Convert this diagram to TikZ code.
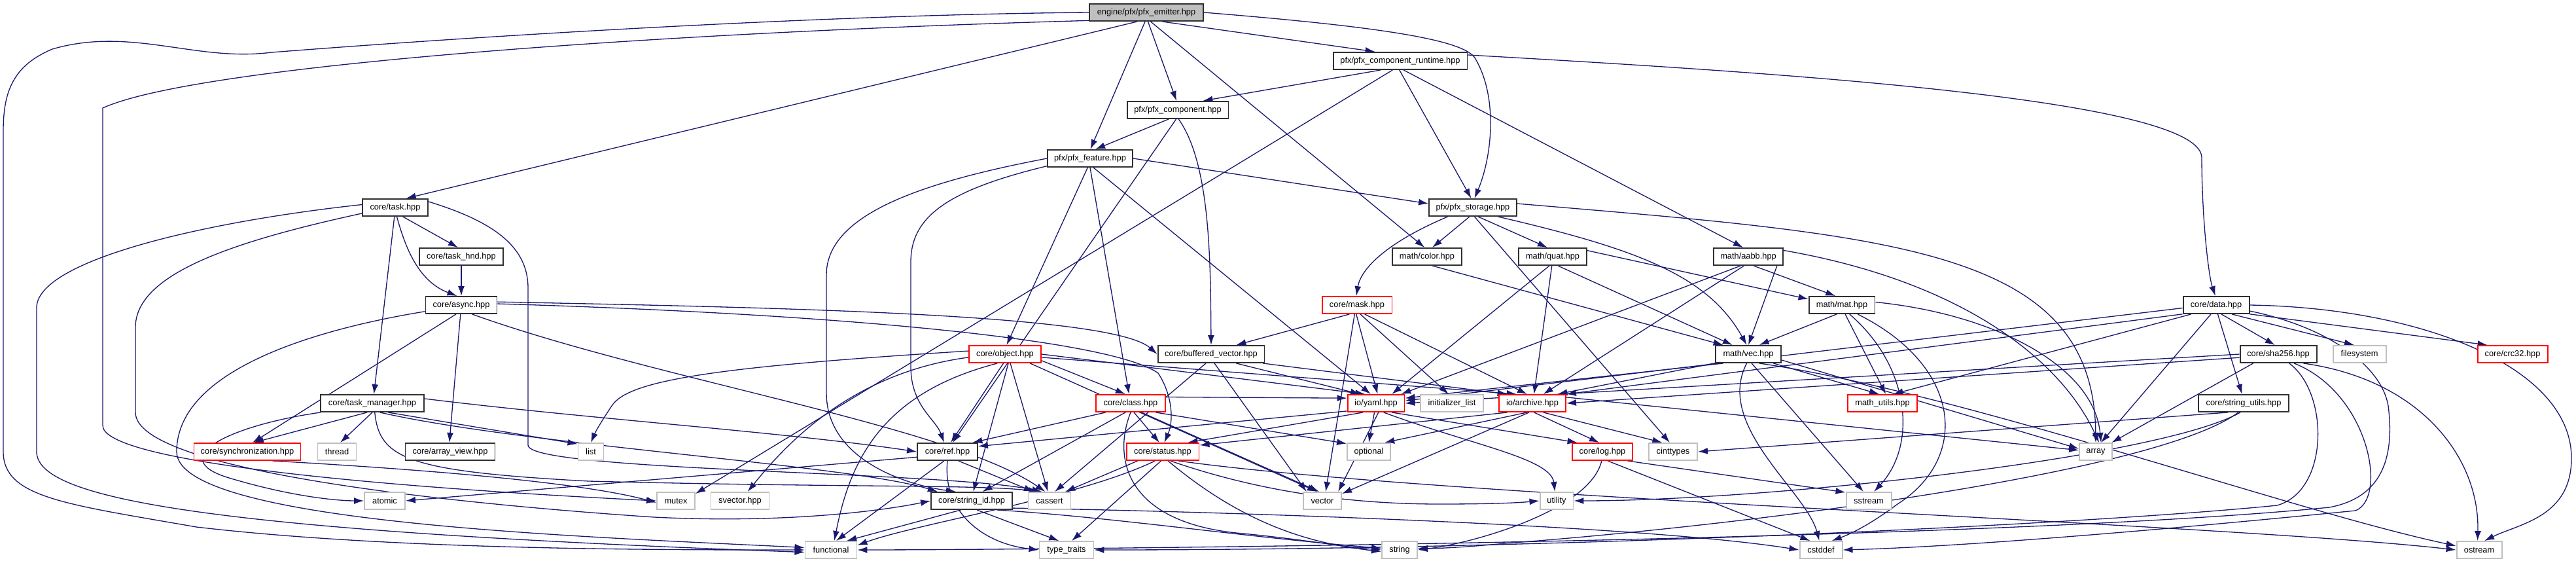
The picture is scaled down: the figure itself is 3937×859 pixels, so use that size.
\documentclass[tikz,border=0pt]{standalone}
\usepackage{fontspec}
\setmainfont{Liberation Sans}
\usetikzlibrary{arrows.meta}
\definecolor{edgec}{HTML}{191970}
\definecolor{redc}{HTML}{FF0000}
\definecolor{grayc}{HTML}{BFBFBF}
\definecolor{boxc}{HTML}{303030}
\pgfdeclarelayer{bg}
\pgfsetlayers{bg,main}
\begin{document}
\begin{tikzpicture}[x=0.02cm,y=-0.02cm,
  nd/.style={draw=boxc,line width=1.1pt,fill=white,minimum height=0.52cm,inner sep=0pt,font=\fontsize{7.3}{8.5}\selectfont},
  rd/.style={nd,draw=redc},
  sy/.style={nd,draw=grayc},
  rt/.style={nd,fill=grayc},
  e/.style={draw=edgec,line width=0.75pt,-{Latex[length=0.3cm,width=0.2cm]}}]
\useasboundingbox (0,0) rectangle (3937,859);
\node[rt,minimum width=3.48cm] (emitter) at (1752,19) {engine/pfx/pfx\_emitter.hpp};
\node[nd,minimum width=4.10cm] (runtime) at (2140,93) {pfx/pfx\_component\_runtime.hpp};
\node[nd,minimum width=3.10cm] (comp) at (1800,168) {pfx/pfx\_component.hpp};
\node[nd,minimum width=2.60cm] (feat) at (1666,242) {pfx/pfx\_feature.hpp};
\node[nd,minimum width=2.00cm] (task) at (604,317) {core/task.hpp};
\node[nd,minimum width=2.68cm] (stor) at (2251,317) {pfx/pfx\_storage.hpp};
\node[nd,minimum width=2.56cm] (taskhnd) at (705,392) {core/task\_hnd.hpp};
\node[nd,minimum width=2.12cm] (color) at (2181,392) {math/color.hpp};
\node[nd,minimum width=2.08cm] (quat) at (2373,392) {math/quat.hpp};
\node[nd,minimum width=2.12cm] (aabb) at (2672,392) {math/aabb.hpp};
\node[nd,minimum width=2.18cm] (async) at (705,466) {core/async.hpp};
\node[rd,minimum width=2.14cm] (mask) at (2074,466) {core/mask.hpp};
\node[nd,minimum width=2.02cm] (mat) at (2815,466) {math/mat.hpp};
\node[nd,minimum width=2.02cm] (data) at (3387,466) {core/data.hpp};
\node[rd,minimum width=2.20cm] (object) at (1536,541) {core/object.hpp};
\node[nd,minimum width=3.26cm] (bufvec) at (1851,541) {core/buffered\_vector.hpp};
\node[nd,minimum width=2.00cm] (vec) at (2672,541) {math/vec.hpp};
\node[nd,minimum width=2.34cm] (sha) at (3482,541) {core/sha256.hpp};
\node[sy,minimum width=1.62cm] (fs) at (3606,541) {filesystem};
\node[rd,minimum width=2.14cm] (crc) at (3840,541) {core/crc32.hpp};
\node[nd,minimum width=3.16cm] (tmgr) at (569,616) {core/task\_manager.hpp};
\node[rd,minimum width=2.12cm] (class) at (1728,616) {core/class.hpp};
\node[rd,minimum width=1.74cm] (yaml) at (2103,616) {io/yaml.hpp};
\node[sy,minimum width=1.92cm] (initl) at (2219,616) {initializer\_list};
\node[rd,minimum width=2.04cm] (arch) at (2342,616) {io/archive.hpp};
\node[rd,minimum width=2.12cm] (mutils) at (2877,616) {math\_utils.hpp};
\node[nd,minimum width=2.76cm] (sutils) at (3429,616) {core/string\_utils.hpp};
\node[rd,minimum width=3.26cm] (sync) at (378,690) {core/synchronization.hpp};
\node[sy,minimum width=1.18cm] (thread) at (515,690) {thread};
\node[nd,minimum width=2.74cm] (aview) at (688,690) {core/array\_view.hpp};
\node[sy,minimum width=0.78cm] (list) at (903,690) {list};
\node[nd,minimum width=1.84cm] (ref) at (1448,690) {core/ref.hpp};
\node[rd,minimum width=2.22cm] (status) at (1777,690) {core/status.hpp};
\node[sy,minimum width=1.32cm] (optional) at (2092,690) {optional};
\node[rd,minimum width=1.84cm] (log) at (2449,690) {core/log.hpp};
\node[sy,minimum width=1.48cm] (cint) at (2557,690) {cinttypes};
\node[sy,minimum width=1.00cm] (array) at (3203,690) {array};
\node[sy,minimum width=1.24cm] (atomic) at (588,765) {atomic};
\node[sy,minimum width=1.16cm] (mutex) at (1033,765) {mutex};
\node[sy,minimum width=1.78cm] (svector) at (1131,765) {svector.hpp};
\node[nd,minimum width=2.48cm] (sid) at (1485,765) {core/string\_id.hpp};
\node[sy,minimum width=1.30cm] (cassert) at (1604,765) {cassert};
\node[sy,minimum width=1.16cm] (vector) at (2021,765) {vector};
\node[sy,minimum width=1.02cm] (utility) at (2379,765) {utility};
\node[sy,minimum width=1.38cm] (sstream) at (2856,765) {sstream};
\node[sy,minimum width=1.58cm] (functional) at (1270,840) {functional};
\node[sy,minimum width=1.66cm] (ttraits) at (1630,840) {type\_traits};
\node[sy,minimum width=1.08cm] (string) at (2139,840) {string};
\node[sy,minimum width=1.30cm] (cstddef) at (2783,840) {cstddef};
\node[sy,minimum width=1.38cm] (ostream) at (3789,840) {ostream};
\begin{pgfonlayer}{bg}
% emitter
\draw[e] (emitter.180) .. controls (1300,22) and (800,50) .. (415,80) .. controls (300,95) and (200,40) .. (80,75) .. controls (20,100) and (5,140) .. (5,200) -- (5,690) .. controls (5,760) and (100,770) .. (300,805) .. controls (600,840) and (1000,840) .. (functional.west);
\draw[e] (emitter.188) .. controls (1000,50) and (300,100) .. (157,165) -- (157,650) .. controls (157,700) and (500,740) .. (mutex.west);
\draw[e] (emitter.225) -- (task.40);
\draw[e] (emitter.262) -- (feat.88);
\draw[e] (emitter.280) -- (comp.98);
\draw[e] (emitter.295) -- (color.105);
\draw[e] (emitter.330) -- (runtime.160);
\draw[e] (emitter.0) .. controls (2100,40) and (2240,60) .. (2255,90) .. controls (2290,150) and (2280,240) .. (stor.80);
% runtime
\draw[e] (runtime.205) -- (comp.20);
\draw[e] (runtime.230) -- (mutex.20);
\draw[e] (runtime.265) -- (stor.100);
\draw[e] (runtime.290) -- (aabb.120);
\draw[e] (runtime.5) .. controls (2700,110) and (3360,150) .. (3365,240) .. controls (3365,330) and (3375,420) .. (data.95);
% component
\draw[e] (comp.225) -- (feat.60);
\draw[e] (comp.260) -- (ref.60);
\draw[e] (comp.275) .. controls (1850,250) and (1850,400) .. (bufvec.north);
% feature
\draw[e] (feat.255) -- (object.80);
\draw[e] (feat.270) -- (class.100);
\draw[e] (feat.290) -- (yaml.120);
\draw[e] (feat.0) -- (stor.175);
\draw[e] (feat.190) .. controls (1450,290) and (1392,330) .. (1392,400) -- (1392,560) .. controls (1392,620) and (1430,640) .. (ref.110);
\draw[e] (feat.180) .. controls (1400,280) and (1263,330) .. (1263,420) -- (1263,600) .. controls (1263,700) and (1380,740) .. (sid.150);
% task
\draw[e] (task.175) .. controls (300,340) and (56,400) .. (56,470) -- (56,690) .. controls (56,760) and (300,810) .. (functional.185);
\draw[e] (task.190) .. controls (350,370) and (207,420) .. (207,500) -- (207,630) .. controls (207,720) and (700,770) .. (1000,790) .. controls (1200,800) and (1350,780) .. (sid.west);
\draw[e] (task.265) -- (tmgr.80);
\draw[e] (task.280) .. controls (620,380) and (640,430) .. (async.115);
\draw[e] (task.310) -- (taskhnd.110);
\draw[e] (task.10) .. controls (760,340) and (807,380) .. (807,440) -- (807,680) .. controls (807,720) and (1450,720) .. (cassert.130);
\draw[e] (taskhnd) -- (async);
% async
\draw[e] (async.190) .. controls (500,500) and (270,560) .. (270,690) .. controls (270,800) and (900,820) .. (functional.175);
\draw[e] (async.240) -- (sync.60);
\draw[e] (async.265) -- (aview.95);
\draw[e] (async.5) .. controls (1200,470) and (1700,480) .. (bufvec.180);
\draw[e] (async.2) .. controls (1300,480) and (1700,520) .. (1770,570) .. controls (1790,600) and (1795,640) .. (status.80);
\draw[e] (async.320) .. controls (1000,580) and (1450,650) .. (cassert.115);
% task manager
\draw[e] (tmgr.240) -- (sync.55);
\draw[e] (tmgr.270) -- (thread.70);
\draw[e] (tmgr.190) .. controls (350,650) and (250,700) .. (350,730) .. controls (450,760) and (520,765) .. (atomic.west);
\draw[e] (tmgr.330) -- (list.150);
\draw[e] (tmgr.5) .. controls (900,640) and (1200,660) .. (ref.180);
\draw[e] (tmgr.310) .. controls (800,680) and (1300,710) .. (sid.165);
\draw[e] (tmgr.285) .. controls (580,700) and (620,720) .. (900,735) .. controls (1300,745) and (1500,740) .. (cassert.140);
\draw[e] (sync.-20) .. controls (700,720) and (900,740) .. (mutex.185);
% object
\draw[e] (object.175) .. controls (1100,560) and (960,580) .. (935,620) .. controls (915,650) and (910,660) .. (list.north);
\draw[e] (object.185) .. controls (1300,570) and (1200,680) .. (svector.50);
\draw[e] (object.350) -- (class.120);
\draw[e] (object.260) -- (ref.70);
\draw[e] (object.290) -- (sid.80);
\draw[e] (object.0) -- (yaml.140);
\draw[e] (object.355) -- (arch.150);
\draw[e] (object.230) .. controls (1350,600) and (1300,700) .. (functional.70);
\draw[e] (object.300) -- (cassert.100);
\draw[e] (object.340) -- (vector.120);
% class
\draw[e] (class.200) -- (ref.20);
\draw[e] (class.290) -- (status.110);
\draw[e] (class.240) -- (sid.40);
\draw[e] (class.270) .. controls (1700,700) and (1720,800) .. (1900,815) .. controls (2000,825) and (2050,835) .. (string.west);
\draw[e] (class.320) -- (vector.110);
\draw[e] (class.10) -- (yaml.170);
\draw[e] (class.340) -- (optional.160);
% ref
\draw[e] (ref.190) -- (atomic.east);
\draw[e] (ref.250) -- (functional.60);
\draw[e] (ref.270) .. controls (1440,780) and (1500,830) .. (ttraits.west);
\draw[e] (ref.320) -- (cassert.150);
% string_id
\draw[e] (sid.220) -- (functional.30);
\draw[e] (sid.300) -- (ttraits.130);
\draw[e] (sid.340) .. controls (1700,790) and (1900,820) .. (string.175);
\draw[e] (sid.350) .. controls (1800,780) and (2500,800) .. (cstddef.west);
% status
\draw[e] (status.230) .. controls (1650,760) and (1400,800) .. (functional.10);
\draw[e] (status.260) -- (ttraits.60);
\draw[e] (status.200) -- (cassert.30);
\draw[e] (status.310) .. controls (1950,760) and (2100,770) .. (2200,770) .. controls (2280,770) and (2320,768) .. (utility.west);
\draw[e] (status.330) .. controls (2200,760) and (3400,800) .. (ostream.west);
\draw[e] (status.300) .. controls (1900,800) and (2000,830) .. (string.185);
% storage
\draw[e] (stor.200) .. controls (2120,370) and (2080,410) .. (mask.95);
\draw[e] (stor.250) -- (color.60);
\draw[e] (stor.300) -- (quat.120);
\draw[e] (stor.340) .. controls (2500,380) and (2610,420) .. (vec.100);
\draw[e] (stor.5) .. controls (2900,360) and (3200,380) .. (array.north);
\draw[e] (stor.280) -- (cint.110);
% color quat aabb mat
\draw[e] (color.300) -- (vec.160);
\draw[e] (quat.300) -- (vec.150);
\draw[e] (quat.10) -- (mat.170);
\draw[e] (quat.250) -- (yaml.30);
\draw[e] (quat.265) -- (arch.80);
\draw[e] (aabb.300) -- (mat.125);
\draw[e] (aabb.north east) -- (vec.90);
\draw[e] (aabb.230) -- (yaml.20);
\draw[e] (aabb.245) -- (arch.40);
\draw[e] (aabb.10) .. controls (3000,430) and (3150,550) .. (array.70);
\draw[e] (mat.240) -- (vec.40);
\draw[e] (mat.290) -- (mutils.70);
\draw[e] (mat.5) .. controls (3050,480) and (3200,560) .. (array.60);
\draw[e] (mat.310) .. controls (2920,560) and (2930,680) .. (sstream.60);
\draw[e] (mat.330) .. controls (3000,560) and (3010,700) .. (2900,770) .. controls (2860,800) and (2830,815) .. (cstddef.40);
% vec
\draw[e] (vec.200) -- (yaml.10);
\draw[e] (vec.195) -- (arch.20);
\draw[e] (vec.340) -- (mutils.110);
\draw[e] (vec.290) -- (sstream.120);
\draw[e] (vec.320) .. controls (3000,600) and (3500,780) .. (ostream.170);
\draw[e] (vec.260) .. controls (2620,650) and (2760,750) .. (cstddef.100);
\draw[e] (vec.350) -- (array.170);
% mask, bufvec
\draw[e] (mask.230) -- (bufvec.20);
\draw[e] (mask.265) -- (yaml.80);
\draw[e] (mask.290) -- (initl.110);
\draw[e] (mask.310) -- (arch.120);
\draw[e] (mask.255) -- (vector.70);
\draw[e] (bufvec.340) -- (yaml.150);
\draw[e] (bufvec.350) -- (arch.160);
\draw[e] (bufvec.290) -- (vector.150);
\draw[e] (bufvec.240) -- (cassert.60);
% yaml, archive, log
\draw[e] (yaml.260) -- (optional.90);
\draw[e] (yaml.330) -- (log.160);
\draw[e] (yaml.285) -- (vector.30);
\draw[e] (yaml.195) -- (ref.10);
\draw[e] (yaml.215) -- (status.20);
\draw[e] (yaml.310) .. controls (2250,680) and (2370,700) .. (utility.100);
\draw[e] (arch.240) -- (optional.30);
\draw[e] (arch.280) -- (log.110);
\draw[e] (arch.320) -- (cint.140);
\draw[e] (arch.250) -- (vector.20);
\draw[e] (arch.200) -- (status.10);
\draw[e] (arch.10) -- (array.175);
\draw[e] (log.300) -- (cstddef.140);
\draw[e] (log.340) -- (sstream.160);
\draw[e] (log.265) .. controls (2430,780) and (2250,830) .. (string.east);
% data, sha, string utils
\draw[e] (data.300) -- (sha.110);
\draw[e] (data.330) -- (fs.120);
\draw[e] (data.345) -- (crc.160);
\draw[e] (data.185) -- (yaml.5);
\draw[e] (data.195) -- (arch.15);
\draw[e] (data.200) -- (mutils.40);
\draw[e] (data.240) -- (array.60);
\draw[e] (data.280) -- (sutils.100);
\draw[e] (data.0) .. controls (3700,470) and (3930,560) .. (3930,700) .. controls (3930,790) and (3850,800) .. (ostream.60);
\draw[e] (data.350) .. controls (3560,500) and (3640,560) .. (3650,620) .. controls (3660,700) and (3640,760) .. (3560,775) .. controls (3000,830) and (1500,840) .. (functional.east);
\draw[e] (sha.180) -- (yaml.0);
\draw[e] (sha.185) -- (arch.0);
\draw[e] (sha.200) -- (array.30);
\draw[e] (sha.320) .. controls (3560,600) and (3560,750) .. (3480,772) .. controls (3200,800) and (2400,840) .. (ttraits.east);
\draw[e] (sha.330) .. controls (3620,600) and (3650,760) .. (3600,780) .. controls (3300,810) and (3000,835) .. (cstddef.east);
\draw[e] (sha.340) .. controls (3700,580) and (3790,700) .. (ostream.100);
\draw[e] (sutils.210) -- (cint.0);
\draw[e] (sutils.240) .. controls (3300,720) and (2700,800) .. (2300,830) .. controls (2250,835) and (2200,838) .. (string.5);
\draw[e] (sutils.250) .. controls (3300,700) and (2700,765) .. (utility.east);
\end{pgfonlayer}
\end{tikzpicture}
\end{document}
